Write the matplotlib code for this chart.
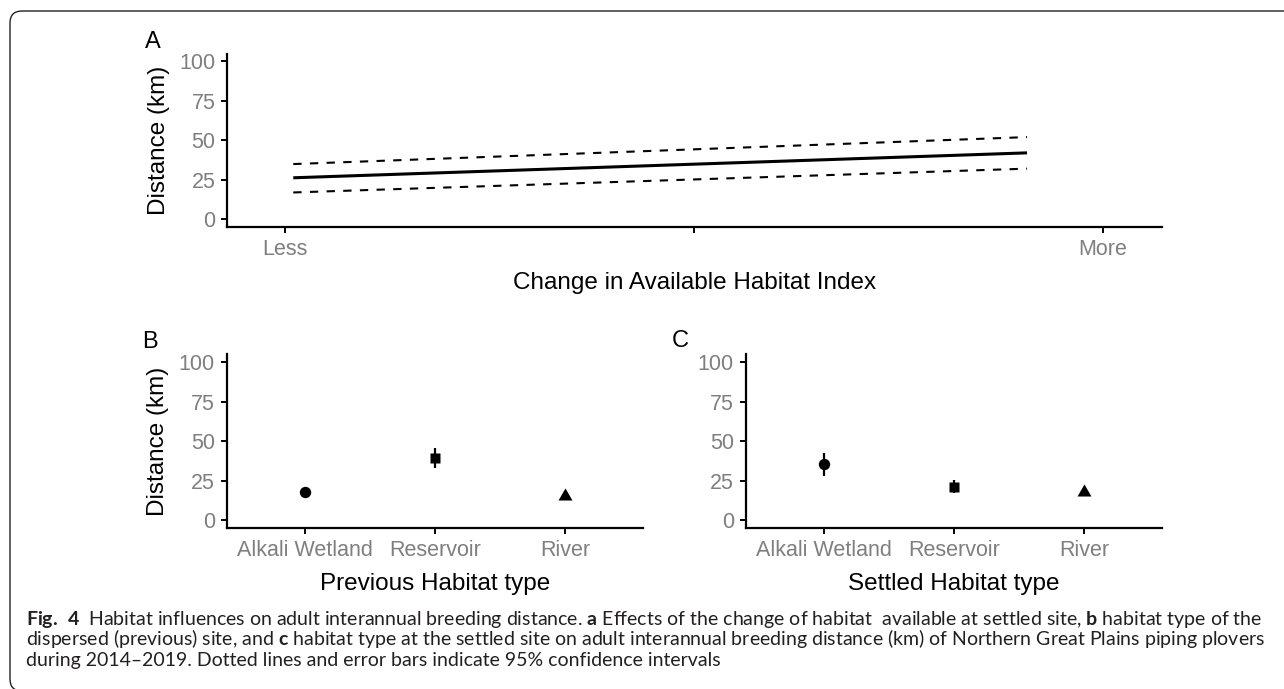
import matplotlib
matplotlib.use('Agg')
import matplotlib.pyplot as plt
import numpy as np
from matplotlib.patches import FancyBboxPatch

plt.rcParams['font.family'] = 'Liberation Sans'
plt.rcParams['mathtext.fontset'] = 'custom'
plt.rcParams['mathtext.rm'] = 'Lato'
plt.rcParams['mathtext.bf'] = 'Lato:bold'

# ---- data ----
# panel A: change in available habitat index (0 = less, 2 = more)
hab_x = [0.02, 1.814]
hab_fit = [26.2, 42.0]
hab_lo = [16.9, 32.0]
hab_hi = [34.9, 52.0]
hab_ticks = [0, 1, 2]
hab_labels = ['Less', '', 'More']

# panels B and C: habitat type
hab_types = ['Alkali Wetland', 'Reservoir', 'River']
prev_est = [17.9, 39.1, 15.2]
prev_lo = [16.5, 32.8, 14.0]
prev_hi = [19.5, 45.5, 16.5]
settled_est = [35.3, 21.1, 18.0]
settled_lo = [27.9, 16.9, 17.0]
settled_hi = [42.3, 25.4, 19.3]

yticks = [0, 25, 50, 75, 100]

W, H = 1284, 689
fig = plt.figure(figsize=(W / 100, H / 100), dpi=100)

grey = '#7f7f7f'
tri = [(-1, -0.577), (1, -0.577), (0, 1.155)]
markers = ['o', 's', tri]
msizes = [8.2, 7.8, 11.6]


def px_axes(left, right, top, bottom):
    return fig.add_axes([left / W, 1 - bottom / H, (right - left) / W, (bottom - top) / H])


def style(ax, ylabel=True):
    for s in ['top', 'right']:
        ax.spines[s].set_visible(False)
    for s in ['left', 'bottom']:
        ax.spines[s].set_linewidth(1.6)
    ax.tick_params(length=4.3, width=1.4, pad=4, labelsize=15.5, labelcolor=grey)
    ax.set_ylim(-5, 105)
    ax.set_yticks(yticks)
    if ylabel:
        ax.set_ylabel('Distance (km)', fontsize=17.5, labelpad=7)


# panel A
axA = px_axes(227, 1162, 53.5, 227)
axA.plot(hab_x, hab_fit, color='black', lw=2.2, solid_capstyle='butt')
axA.plot(hab_x, hab_lo, color='black', lw=1.5, dashes=(4, 4))
axA.plot(hab_x, hab_hi, color='black', lw=1.5, dashes=(4, 4))
axA.set_xlim(-0.142, 2.144)
axA.set_xticks(hab_ticks)
axA.set_xticklabels(hab_labels)
style(axA)
axA.set_xlabel('Change in Available Habitat Index', fontsize=17.5, labelpad=9)


def cat_panel(ax, est, lo, hi, xlabel, ylabel):
    xs = np.arange(len(hab_types))
    for i in xs:
        ax.vlines(i, lo[i], hi[i], color='black', lw=1.6)
        ax.plot(i, est[i], marker=markers[i], ms=msizes[i], color='black', mec='none')
    ax.set_xlim(-0.6, len(hab_types) - 0.4)
    ax.set_xticks(xs)
    ax.set_xticklabels(hab_types)
    style(ax, ylabel)
    ax.set_xlabel(xlabel, fontsize=17.5, labelpad=9)


axB = px_axes(226.5, 643, 354.4, 528)
cat_panel(axB, prev_est, prev_lo, prev_hi, 'Previous Habitat type', True)
axC = px_axes(745.5, 1162, 354.4, 528)
cat_panel(axC, settled_est, settled_lo, settled_hi, 'Settled Habitat type', False)

# panel letters
for lab, x, y in [('A', 153, 42), ('B', 150, 342), ('C', 680, 341)]:
    fig.text(x / W, 1 - y / H, lab, fontsize=17, ha='center', va='center')

# caption
cap_lines = [
    r'$\mathbf{Fig.\ 4}$  Habitat influences on adult interannual breeding distance. $\mathbf{a}$ Effects of the change of habitat  available at settled site, $\mathbf{b}$ habitat type of the',
    r'dispersed (previous) site, and $\mathbf{c}$ habitat type at the settled site on adult interannual breeding distance (km) of Northern Great Plains piping plovers',
    r'during 2014–2019. Dotted lines and error bars indicate 95% confidence intervals',
]
cap_y = [625, 645.5, 666]
texts = []
for line, y in zip(cap_lines, cap_y):
    texts.append(fig.text(26 / W, 1 - y / H, line, fontsize=12, family='Lato',
                          ha='left', va='baseline', color='#231f20'))
r = fig.canvas.get_renderer()
w = texts[1].get_window_extent(r).width
for t in texts:
    t.set_fontsize(12 * 1233 / w)

# frame round the figure
frame = FancyBboxPatch((10, -2), 1400, H - 11 + 2, boxstyle='round,pad=0,rounding_size=12',
                       fc='none', ec='#222222', lw=1.0, transform=None)
fig.patches.append(frame)

fig.savefig('out.png', dpi=100)
